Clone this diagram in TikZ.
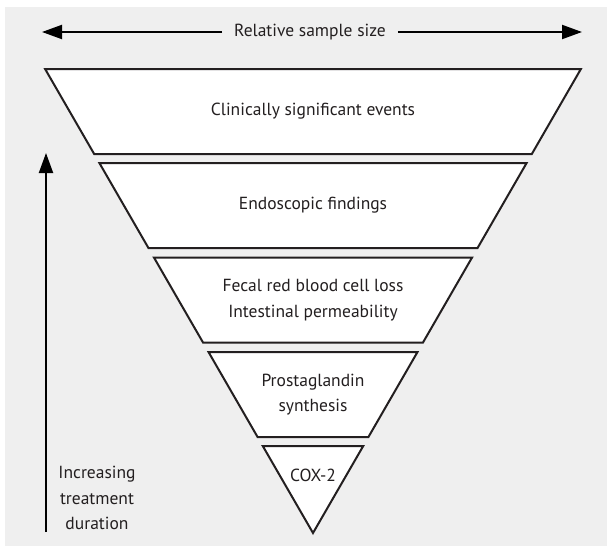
\documentclass[tikz,border=0pt]{standalone}
\usepackage{fontspec}
\setmainfont{PT Sans}
\usetikzlibrary{arrows.meta}
\definecolor{bg}{HTML}{EFEFEF}
\definecolor{ink}{HTML}{231F20}
\begin{document}
\begin{tikzpicture}[x=1pt,y=-1pt,
  layerband/.style={draw=ink, fill=white, line width=2pt, line join=miter},
  lbl/.style={text=ink, font=\fontsize{17.5}{25.5}\selectfont, align=center, inner sep=0pt},
  arr/.style={-{Triangle[length=20pt,width=14pt]}, line width=2pt, black}]
\useasboundingbox (0,0) rectangle (607,546);
\fill[white] (0,0) rectangle (607,546);
\fill[bg] (5,7) rectangle (607,546);
% bands of an inverted equilateral triangle with apex (313,533)
\foreach \t/\b in {69/154, 163/248, 257.5/342.5, 352/437}{
  \pgfmathsetmacro{\ht}{0.57735*(533-\t)}
  \pgfmathsetmacro{\hb}{0.57735*(533-\b)}
  \draw[layerband] ({313-\ht},\t) -- ({313+\ht},\t) -- ({313+\hb},\b) -- ({313-\hb},\b) -- cycle;
}
\draw[layerband] ({313-50.23},446) -- ({313+50.23},446) -- (313,533) -- cycle;
% labels
\node[lbl] (l1) at (313,111.5) {Clinically significant events};
\node[lbl] (l2) at (313,205.5) {Endoscopic findings};
\node[lbl] (l3) at (313,300) {Fecal red blood cell loss\\Intestinal permeability};
\node[lbl] (l4) at (313,394.5) {Prostaglandin\\synthesis};
\node[lbl] (l5) at (313,475) {COX-2};
% top arrow
\node[lbl, inner xsep=12pt] (title) at (310,32) {Relative sample size};
\coordinate (tl) at (42,32);
\coordinate (tr) at (582,32);
\draw[arr] (title.west) -- (tl);
\draw[arr] (title.east) -- (tr);
% side arrow
\coordinate (vb) at (46,532);
\coordinate (vt) at (46,153);
\draw[arr] (vb) -- (vt);
\node[lbl] (dur) at (97,498) {Increasing\\treatment\\duration};
\end{tikzpicture}
\end{document}
